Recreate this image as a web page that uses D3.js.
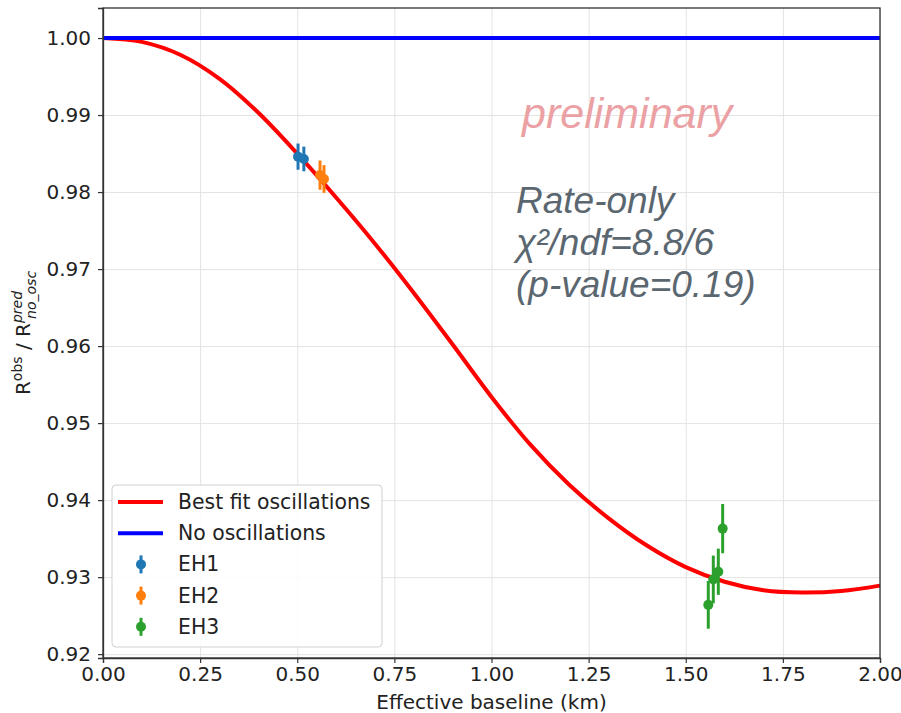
<!DOCTYPE html>
<html>
<head>
<meta charset="utf-8">
<script src="https://cdn.jsdelivr.net/npm/d3@7"></script>
<style>
  body { margin: 0; background: #fff; }
  svg { display: block; }
  .tick text { font-family: "DejaVu Sans", sans-serif; font-size: 20px; fill: #222; }
  .grid line { stroke: #e3e3e3; stroke-width: 1; }
  .grid .domain { display: none; }
</style>
</head>
<body>
<svg width="901" height="713"></svg>
<script>
// best fit curve (baseline km, ratio)
const fitL = [0, 0.1, 0.2, 0.3, 0.4, 0.5, 0.6, 0.7, 0.8, 0.9, 1.0, 1.1, 1.2, 1.3, 1.4, 1.5, 1.6, 1.7, 1.8, 1.9, 2.0];
const fitR = [1.0, 0.9995, 0.9978, 0.9947, 0.9903, 0.985, 0.9793, 0.9733, 0.9669, 0.9602, 0.9534, 0.9472, 0.942, 0.9377, 0.9341, 0.9313, 0.9294, 0.9283, 0.928, 0.9282, 0.9289];

const noOscL = [0, 2];
const noOscR = [1, 1];

const eh1L = [0.502, 0.517];
const eh1R = [0.9846, 0.9843];
const eh1Err = [0.0017, 0.0016];

const eh2L = [0.5586, 0.5689];
const eh2R = [0.9822, 0.9817];
const eh2Err = [0.0019, 0.0018];

const eh3L = [1.558, 1.5709, 1.5838, 1.595];
const eh3R = [0.9264, 0.9297, 0.9307, 0.9363];
const eh3Err = [0.0031, 0.0031, 0.003, 0.0032];

const xTicks = [0, 0.25, 0.5, 0.75, 1.0, 1.25, 1.5, 1.75, 2.0];
const yTicks = [0.92, 0.93, 0.94, 0.95, 0.96, 0.97, 0.98, 0.99, 1.0];

const svg = d3.select("svg");
const pLeft = 103, pTop = 8, pRight = 880, pBottom = 658;

const x = d3.scaleLinear().domain([0, 2]).range([pLeft, pRight]);
const y = d3.scaleLinear().domain([0.9195, 1.0039]).range([pBottom, pTop]);

// grid
svg.append("g")
  .attr("class", "grid")
  .attr("transform", "translate(0," + pBottom + ")")
  .call(d3.axisBottom(x).tickValues(xTicks).tickSize(-(pBottom - pTop)).tickFormat(""));
svg.append("g")
  .attr("class", "grid")
  .attr("transform", "translate(" + pLeft + ",0)")
  .call(d3.axisLeft(y).tickValues(yTicks).tickSize(-(pRight - pLeft)).tickFormat(""));

// curves
const line = d3.line()
  .x(function (d) { return x(d[0]); })
  .y(function (d) { return y(d[1]); })
  .curve(d3.curveCatmullRom);

svg.append("path")
  .datum(fitL.map(function (d, i) { return [d, fitR[i]]; }))
  .attr("d", line)
  .attr("fill", "none")
  .attr("stroke", "#ff0000")
  .attr("stroke-width", 4);

svg.append("path")
  .datum(noOscL.map(function (d, i) { return [d, noOscR[i]]; }))
  .attr("d", line)
  .attr("fill", "none")
  .attr("stroke", "#0000ff")
  .attr("stroke-width", 4);

// error bar points
function drawPoints(ls, rs, errs, color) {
  const g = svg.append("g");
  const pts = ls.map(function (d, i) { return { l: d, r: rs[i], e: errs[i] }; });
  g.selectAll("line")
    .data(pts)
    .enter()
    .append("line")
    .attr("x1", function (d) { return x(d.l); })
    .attr("x2", function (d) { return x(d.l); })
    .attr("y1", function (d) { return y(d.r - d.e); })
    .attr("y2", function (d) { return y(d.r + d.e); })
    .attr("stroke", color)
    .attr("stroke-width", 3);
  g.selectAll("circle")
    .data(pts)
    .enter()
    .append("circle")
    .attr("cx", function (d) { return x(d.l); })
    .attr("cy", function (d) { return y(d.r); })
    .attr("r", 5)
    .attr("fill", color);
}
drawPoints(eh1L, eh1R, eh1Err, "#1f77b4");
drawPoints(eh2L, eh2R, eh2Err, "#ff7f0e");
drawPoints(eh3L, eh3R, eh3Err, "#2ca02c");

// frame
svg.append("rect")
  .attr("x", pLeft).attr("y", pTop)
  .attr("width", pRight - pLeft).attr("height", pBottom - pTop)
  .attr("fill", "none")
  .attr("stroke", "#333")
  .attr("stroke-width", 1.3);

// axes
const xAxis = svg.append("g")
  .attr("transform", "translate(0," + pBottom + ")")
  .call(d3.axisBottom(x).tickValues(xTicks).tickSize(5).tickPadding(4).tickFormat(d3.format(".2f")));
const yAxis = svg.append("g")
  .attr("transform", "translate(" + pLeft + ",0)")
  .call(d3.axisLeft(y).tickValues(yTicks).tickSize(5).tickPadding(7).tickFormat(d3.format(".2f")));
[xAxis, yAxis].forEach(function (a) {
  a.select(".domain").attr("stroke", "#333").attr("stroke-width", 1.3);
  a.selectAll(".tick line").attr("stroke", "#333").attr("stroke-width", 1.2);
  a.attr("font-family", null).attr("font-size", null);
});

svg.append("text")
  .attr("x", (pLeft + pRight) / 2)
  .attr("y", 709)
  .attr("text-anchor", "middle")
  .style("font-family", "DejaVu Sans")
  .style("font-size", "20px")
  .attr("fill", "#222")
  .text("Effective baseline (km)");

const yl = svg.append("text")
  .attr("transform", "translate(30," + ((pTop + pBottom) / 2) + ") rotate(-90)")
  .attr("text-anchor", "middle")
  .style("font-family", "DejaVu Sans")
  .style("font-size", "20px")
  .attr("fill", "#222");
yl.append("tspan").text("R");
yl.append("tspan").attr("dy", -8).style("font-size", "14px").text("obs");
yl.append("tspan").attr("dy", 8).text(" / R");
yl.append("tspan").attr("dy", -8).style("font-size", "14px").style("font-style", "italic").text("pred");
yl.append("tspan").attr("dy", 14).attr("dx", -28).style("font-size", "14px").style("font-style", "italic").text("no_osc");

// annotations
svg.append("text")
  .attr("x", 522).attr("y", 128)
  .style("font-family", "Liberation Sans, Arial, sans-serif")
  .style("font-style", "italic")
  .style("font-size", "43px")
  .attr("fill", "#eba1a4")
  .text("preliminary");

const noteLines = ["Rate-only", "χ²/ndf=8.8/6", "(p-value=0.19)"];
svg.append("g")
  .selectAll("text")
  .data(noteLines)
  .enter()
  .append("text")
  .attr("x", 516)
  .attr("y", function (d, i) { return 213 + i * 42; })
  .style("font-family", "Liberation Sans, Arial, sans-serif")
  .style("font-style", "italic")
  .style("font-size", "37px")
  .attr("fill", "#5b6770")
  .text(function (d) { return d; });

// legend
const legendItems = [
  { name: "Best fit oscillations", color: "#ff0000", type: "line" },
  { name: "No oscillations", color: "#0000ff", type: "line" },
  { name: "EH1", color: "#1f77b4", type: "err" },
  { name: "EH2", color: "#ff7f0e", type: "err" },
  { name: "EH3", color: "#2ca02c", type: "err" }
];
const legend = svg.append("g");
legend.append("rect")
  .attr("x", 112).attr("y", 485)
  .attr("width", 270).attr("height", 162)
  .attr("rx", 4)
  .attr("fill", "#fff").attr("fill-opacity", 0.85)
  .attr("stroke", "#d0d0d0");
const rows = legend.selectAll("g.row")
  .data(legendItems)
  .enter()
  .append("g")
  .attr("class", "row")
  .attr("transform", function (d, i) { return "translate(0," + (502 + i * 31.2) + ")"; });
rows.filter(function (d) { return d.type === "line"; })
  .append("line")
  .attr("x1", 118).attr("x2", 163)
  .attr("stroke", function (d) { return d.color; })
  .attr("stroke-width", 4);
const errRows = rows.filter(function (d) { return d.type === "err"; });
errRows.append("line")
  .attr("x1", 141).attr("x2", 141).attr("y1", -9).attr("y2", 9)
  .attr("stroke", function (d) { return d.color; })
  .attr("stroke-width", 3);
errRows.append("circle")
  .attr("cx", 141).attr("r", 5)
  .attr("fill", function (d) { return d.color; });
rows.append("text")
  .attr("x", 178).attr("y", 7)
  .style("font-family", "DejaVu Sans")
  .style("font-size", "20.4px")
  .attr("fill", "#222")
  .text(function (d) { return d.name; });
</script>
</body>
</html>
